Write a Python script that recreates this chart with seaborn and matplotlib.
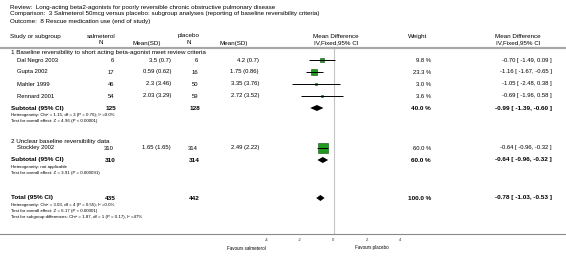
import matplotlib
matplotlib.use("Agg")
import matplotlib.pyplot as plt
import seaborn as sns
import pandas as pd
from matplotlib import font_manager as fm
from matplotlib.lines import Line2D

# ---------------- data ----------------
title_lines = [
    "Review:  Long-acting beta2-agonists for poorly reversible chronic obstructive pulmonary disease",
    "Comparison:  3 Salmeterol 50mcg versus placebo: subgroup analyses (reporting of baseline reversibility criteria)",
    "Outcome:  8 Rescue medication use (end of study)",
]
group_titles = [
    "1 Baseline reversibility to short acting beta-agonist meet review criteria",
    "2 Unclear baseline reversibility data",
]
studies = ["Dal Negro 2003", "Gupta 2002", "Mahler 1999", "Rennard 2001", "Stockley 2002"]
sal_n = [6, 17, 46, 54, 310]
sal_msd = ["3.5 (0.7)", "0.59 (0.62)", "2.3 (3.46)", "2.03 (3.29)", "1.65 (1.65)"]
pla_n = [6, 16, 50, 59, 314]
pla_msd = ["4.2 (0.7)", "1.75 (0.86)", "3.35 (3.76)", "2.72 (3.52)", "2.49 (2.22)"]
weight = [9.8, 23.3, 3.0, 3.6, 60.0]
md = [-0.70, -1.16, -1.05, -0.69, -0.64]
ci_lo = [-1.49, -1.67, -2.48, -1.96, -0.96]
ci_hi = [0.09, -0.65, 0.38, 0.58, -0.32]

pooled_labels = ["Subtotal (95% CI)", "Subtotal (95% CI)", "Total (95% CI)"]
pooled_sal_n = [125, 310, 435]
pooled_pla_n = [128, 314, 442]
pooled_weight = [40.0, 60.0, 100.0]
pooled_md = [-0.99, -0.64, -0.78]
pooled_lo = [-1.39, -0.96, -1.03]
pooled_hi = [-0.60, -0.32, -0.53]

stat_lines = [
    ["Heterogeneity: Chi\u00b2 = 1.15, df = 3 (P = 0.76); I\u00b2 =0.0%",
     "Test for overall effect: Z = 4.96 (P < 0.00001)"],
    ["Heterogeneity: not applicable",
     "Test for overall effect: Z = 3.91 (P = 0.000091)"],
    ["Heterogeneity: Chi\u00b2 = 3.03, df = 4 (P = 0.55); I\u00b2 =0.0%",
     "Test for overall effect: Z = 6.17 (P < 0.00001)",
     "Test for subgroup differences: Chi\u00b2 = 1.87, df = 1 (P = 0.17), I\u00b2 =47%"],
]
x_ticks = [-4, -2, 0, 2, 4]
favours = ["Favours salmeterol", "Favours placebo"]

# ---------------- layout ----------------
W, H = 566, 260
study_y = [60, 72, 84, 96, 148]
pooled_y = [108, 160, 198]
group_y = [53, 141]
stat_y = [[115, 121], [167, 173], [205, 211, 217]]
AX_TOP, AX_BOT = 48, 234
ZERO_PX, UNIT_PX = 333.5, 16.75
# column anchors (pixels): header centre, value right edge
COL_SN = (101, 114)
COL_SM = (147, 171)
COL_PN = (189, 198)
COL_PM = (234, 259)
COL_W = (418, 431)
COL_CI = (518, 552)

names = {f.name for f in fm.fontManager.ttflist}
NARROW = "Liberation Sans Narrow" in names
FAM = "Liberation Sans Narrow" if NARROW else "Liberation Sans"
K = 1.0 if NARROW else 0.82
FS = 5.2 * K
FS_HEAD = 5.45 * K
FS_SMALL = 3.85 * K
FSB = 5.6 * K

sns.set_theme(style="white")
plt.rcParams["font.family"] = [FAM, "DejaVu Sans"]

fig = plt.figure(figsize=(W / 100, H / 100), dpi=100)
fig.patch.set_facecolor("white")


def T(x, y, s, ha="left", bold=False, size=None, color="black"):
    fig.text(x / W, 1 - y / H, s, ha=ha, va="center",
             fontsize=size if size else (FSB if bold else FS),
             fontweight="bold" if bold else "normal", color=color)


# titles
for i, s in enumerate(title_lines):
    T(10, 7 + 7 * i, s, size=FS_HEAD)

# headers
T(10, 37, "Study or subgroup", size=FS_HEAD)
T(COL_SN[0], 36, "salmeterol", ha="center", size=FS_HEAD)
T(COL_SN[0], 43, "N", ha="center", size=FS_HEAD)
T(COL_SM[0], 43, "Mean(SD)", ha="center", size=FS_HEAD)
T(COL_PN[0], 36, "placebo", ha="center", size=FS_HEAD)
T(COL_PN[0], 43, "N", ha="center", size=FS_HEAD)
T(COL_PM[0], 43, "Mean(SD)", ha="center", size=FS_HEAD)
T(336, 37, "Mean Difference", ha="center", size=FS_HEAD)
T(336, 43, "IV,Fixed,95% CI", ha="center", size=FS_HEAD)
T(COL_W[0], 37, "Weight", ha="center", size=FS_HEAD)
T(COL_CI[0], 37, "Mean Difference", ha="center", size=FS_HEAD)
T(COL_CI[0], 43, "IV,Fixed,95% CI", ha="center", size=FS_HEAD)
fig.add_artist(Line2D([0, 1], [1 - 48 / H] * 2, color="#a8a8a8", lw=1.6,
                      transform=fig.transFigure))

# group titles
for g, y in zip(group_titles, group_y):
    T(11, y, g, size=FS_HEAD)

# study rows
for i in range(len(studies)):
    y = study_y[i]
    T(17, y, studies[i])
    T(COL_SN[1], y, str(sal_n[i]), ha="right")
    T(COL_SM[1], y, sal_msd[i], ha="right")
    T(COL_PN[1], y, str(pla_n[i]), ha="right")
    T(COL_PM[1], y, pla_msd[i], ha="right")
    T(COL_W[1], y, f"{weight[i]:.1f} %", ha="right")
    T(COL_CI[1], y, f"{md[i]:.2f} [ {ci_lo[i]:.2f}, {ci_hi[i]:.2f} ]", ha="right")

# pooled rows
for i in range(len(pooled_labels)):
    y = pooled_y[i]
    T(11, y, pooled_labels[i], bold=True)
    T(COL_SN[1] + 2, y, str(pooled_sal_n[i]), ha="right", bold=True)
    T(COL_PN[1] + 2, y, str(pooled_pla_n[i]), ha="right", bold=True)
    T(COL_W[1], y, f"{pooled_weight[i]:.1f} %", ha="right", bold=True)
    T(COL_CI[1], y, f"{pooled_md[i]:.2f} [ {pooled_lo[i]:.2f}, {pooled_hi[i]:.2f} ]",
      ha="right", bold=True)
    for s, sy in zip(stat_lines[i], stat_y[i]):
        T(11, sy, s, size=FS_SMALL)

# ---------------- forest axes ----------------
ax = fig.add_axes([0, 1 - AX_BOT / H, 1, (AX_BOT - AX_TOP) / H])
ax.set_facecolor("none")
ax.set_xlim(-ZERO_PX / UNIT_PX, (W - ZERO_PX) / UNIT_PX)
ax.set_ylim(AX_BOT, AX_TOP)
ax.axvline(0, color="#c4c4c4", lw=0.8, zorder=1)

df = pd.DataFrame({"md": md, "y": study_y, "w": weight})
sns.scatterplot(data=df, x="md", y="y", size="w", sizes=(0.876 * 3, 0.876 * 60),
                size_norm=(3, 60), marker="s", color="#1f9a1f", edgecolor="#0b4d0b",
                linewidth=0.4, legend=False, ax=ax, zorder=2)
ax.hlines(study_y, ci_lo, ci_hi, color="black", lw=0.7, zorder=3)

for y, lo, m, hi in zip(pooled_y, pooled_lo, pooled_md, pooled_hi):
    ax.fill([lo, m, hi, m], [y, y - 3, y, y + 3], color="black", lw=0, zorder=3)

for sp in ["left", "right", "top"]:
    ax.spines[sp].set_visible(False)
ax.spines["bottom"].set_color("#8a8a8a")
ax.spines["bottom"].set_linewidth(0.8)
ax.set_xticks(x_ticks)
ax.set_xticklabels([str(t) for t in x_ticks])
ax.tick_params(axis="x", length=2, width=0.6, color="#8a8a8a", labelsize=3.6 * K,
               pad=1, labelcolor="#333333")
ax.set_yticks([])
ax.set_xlabel("")
ax.set_ylabel("")

T(266, 248, favours[0], ha="right", size=4.0 * K)
T(355, 248, favours[1], ha="left", size=4.0 * K)

fig.savefig("out.png", dpi=100, facecolor="white")
